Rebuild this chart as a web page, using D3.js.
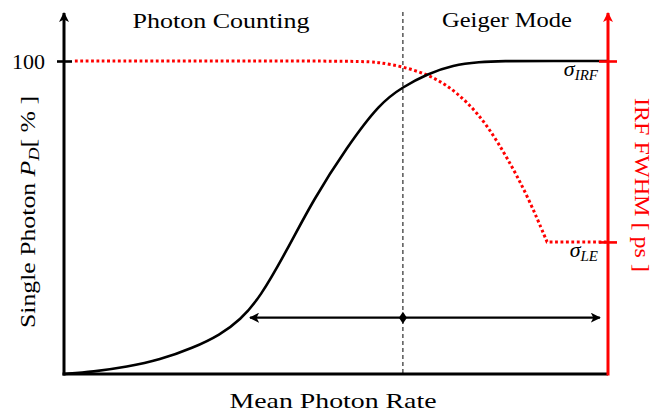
<!DOCTYPE html>
<html>
<head>
<meta charset="utf-8">
<script src="https://cdn.jsdelivr.net/npm/d3@7/dist/d3.min.js"></script>
<style>
  html, body { margin: 0; padding: 0; background: #fff; }
  svg { display: block; }
  text { font-family: "Liberation Serif", "DejaVu Serif", serif; }
</style>
</head>
<body>
<svg id="chart" width="652" height="414"></svg>
<script>
// Detection probability (left axis, %) versus mean photon rate (arbitrary units)
const rate      = [0, 5.3, 11.6, 17.6, 23.7, 28.7, 32.4, 36.0, 41.0, 45.8, 52.0, 58.1, 62.3, 66.7, 71.5, 76.5, 80.1, 90, 100];
const detection = [0, 0.7, 2.3, 4.5, 8.3, 12.5, 17.3, 24.3, 39.6, 55.6, 72.5, 86.6, 91.7, 95.8, 98.7, 99.7, 100, 100, 100];

// IRF width (right axis, relative) versus mean photon rate;
// the knee at the timing-jitter floor is repeated so it stays sharp
const irfRate  = [2.0, 30, 55.0, 58.1, 62.3, 66.7, 70.4, 74.1, 77.8, 81.5, 85.2, 88.8, 88.8, 88.8, 94, 100];
const irfWidth = [100, 100, 100, 99.5, 98.2, 95.8, 92.3, 87.0, 79.5, 69.0, 57.0, 42.2, 42.2, 42.2, 42.2, 42.2];

// Axis ticks and annotations
const leftTicks = [100];
const sigmaIRF = 100, sigmaLE = 42.2;
const rightTicks = [sigmaLE, sigmaIRF];
const regimeSplit = 62.3;          // boundary between counting and Geiger regimes
const spanArrow = [34.2, 98.5];     // extent of the double-headed arrow
const spanArrowLevel = 18;         // height of the double-headed arrow (left scale)

const svg = d3.select("#chart");
const x = d3.scaleLinear().domain([0, 100]).range([64, 608]);
const yL = d3.scaleLinear().domain([0, 100]).range([374, 61]);
const yR = d3.scaleLinear().domain([0, 100]).range([374, 61]);

const defs = svg.append("defs");
function head(id, color) {
  defs.append("marker").attr("id", id)
    .attr("viewBox", "0 0 10 10").attr("refX", 9).attr("refY", 5)
    .attr("markerWidth", 10).attr("markerHeight", 10)
    .attr("markerUnits", "userSpaceOnUse").attr("orient", "auto-start-reverse")
    .append("path").attr("d", "M0,0 L10,5 L0,10 L2.5,5 Z").attr("fill", color);
}
head("hb", "#000");
head("hr", "#ff0000");

// regime boundary
svg.append("line")
  .attr("x1", x(regimeSplit)).attr("x2", x(regimeSplit))
  .attr("y1", 12).attr("y2", yL(0))
  .attr("stroke", "#000").attr("stroke-width", 1)
  .attr("stroke-dasharray", "4,3");

// IRF width curve
svg.append("path")
  .datum(irfRate.map((r, i) => [r, irfWidth[i]]))
  .attr("d", d3.line().x(d => x(d[0])).y(d => yR(d[1])).curve(d3.curveBasis))
  .attr("fill", "none").attr("stroke", "#ff0000").attr("stroke-width", 3)
  .attr("stroke-dasharray", "2.8,2.6");

// detection curve
svg.append("path")
  .datum(rate.map((r, i) => [r, detection[i]]))
  .attr("d", d3.line().x(d => x(d[0])).y(d => yL(d[1])).curve(d3.curveBasis))
  .attr("fill", "none").attr("stroke", "#000").attr("stroke-width", 2.6);

// left axis
const gL = svg.append("g").attr("transform", `translate(${x(0)},0)`)
  .call(d3.axisLeft(yL).tickValues(leftTicks).tickFormat(d3.format("d")).tickSize(0).tickPadding(19));
gL.select(".domain").remove();
gL.selectAll(".tick line").attr("x1", -7).attr("x2", 8).attr("stroke", "#000").attr("stroke-width", 2.6);
gL.selectAll(".tick text").attr("font-size", 22).attr("fill", "#000")
  .attr("font-family", "Liberation Serif, serif");
svg.append("line").attr("x1", x(0)).attr("x2", x(0)).attr("y1", yL(0) + 1.5).attr("y2", 13)
  .attr("stroke", "#000").attr("stroke-width", 3).attr("marker-end", "url(#hb)");

// bottom axis
svg.append("line").attr("x1", x(0) - 1.5).attr("x2", x(100)).attr("y1", yL(0)).attr("y2", yL(0))
  .attr("stroke", "#000").attr("stroke-width", 3);

// right axis
const gR = svg.append("g").attr("transform", `translate(${x(100)},0)`)
  .call(d3.axisRight(yR).tickValues(rightTicks).tickFormat("").tickSize(0));
gR.select(".domain").remove();
gR.selectAll(".tick line").attr("x1", -9).attr("x2", 9).attr("stroke", "#ff0000").attr("stroke-width", 2.6);
svg.append("line").attr("x1", x(100)).attr("x2", x(100)).attr("y1", yR(0) + 1.5).attr("y2", 13)
  .attr("stroke", "#ff0000").attr("stroke-width", 3).attr("marker-end", "url(#hr)");

// double-headed arrow with central marker
const ay = yL(spanArrowLevel);
svg.append("line").attr("x1", x(spanArrow[0])).attr("x2", x(spanArrow[1]))
  .attr("y1", ay).attr("y2", ay)
  .attr("stroke", "#000").attr("stroke-width", 2.4)
  .attr("marker-start", "url(#hb)").attr("marker-end", "url(#hb)");
const cx = x(regimeSplit);
svg.append("path")
  .attr("d", `M${cx},${ay - 6} L${cx + 4},${ay} L${cx},${ay + 6} L${cx - 4},${ay} Z`)
  .attr("fill", "#000");

// regime titles
svg.append("text").attr("x", 221).attr("y", 28).attr("text-anchor", "middle")
  .attr("font-size", 21).attr("textLength", 177).attr("lengthAdjust", "spacingAndGlyphs")
  .text("Photon Counting");
svg.append("text").attr("x", 507).attr("y", 27).attr("text-anchor", "middle")
  .attr("font-size", 21).attr("textLength", 130).attr("lengthAdjust", "spacingAndGlyphs")
  .text("Geiger Mode");

// axis titles
svg.append("text").attr("x", 333).attr("y", 408).attr("text-anchor", "middle")
  .attr("font-size", 21).attr("textLength", 207).attr("lengthAdjust", "spacingAndGlyphs")
  .text("Mean Photon Rate");

const yt = svg.append("text")
  .attr("transform", "translate(35,212) rotate(-90)")
  .attr("text-anchor", "middle").attr("font-size", 21)
  .attr("textLength", 232).attr("lengthAdjust", "spacingAndGlyphs");
yt.append("tspan").text("Single Photon ");
yt.append("tspan").attr("font-style", "italic").text("P");
yt.append("tspan").attr("font-style", "italic").attr("font-size", 15).attr("dy", 4).text("D");
yt.append("tspan").attr("dy", -4).text("[ % ]");

svg.append("text")
  .attr("transform", "translate(635,185) rotate(90)")
  .attr("text-anchor", "middle").attr("font-size", 20).attr("fill", "#ff0000")
  .attr("textLength", 174).attr("lengthAdjust", "spacingAndGlyphs")
  .text("IRF FWHM [ ps ]");

// level labels
function sigma(xr, yb, sub) {
  const t = svg.append("text").attr("x", xr).attr("y", yb).attr("text-anchor", "end")
    .attr("font-size", 22).attr("font-style", "italic");
  t.append("tspan").text("σ");
  t.append("tspan").attr("font-size", 15).attr("dy", 4).text(sub);
}
sigma(598, 76, "IRF");
sigma(598, 257, "LE");
</script>
</body>
</html>
